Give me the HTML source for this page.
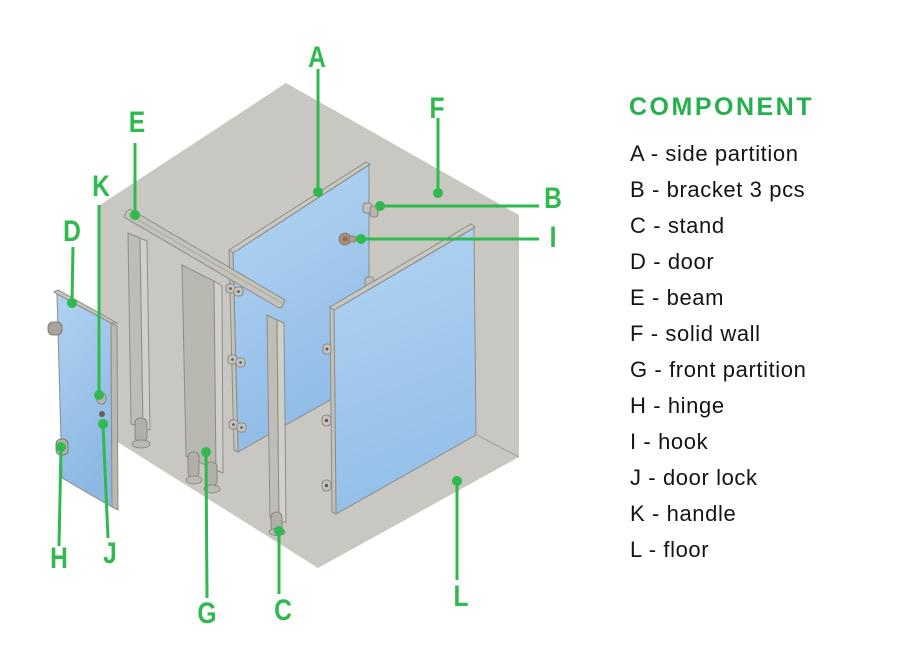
<!DOCTYPE html>
<html><head><meta charset="utf-8"><style>
html,body{margin:0;padding:0;background:#fff;}
svg{display:block;}
.lbl{font-family:"Liberation Sans",sans-serif;font-weight:bold;font-size:30px;fill:#2fb94f;text-anchor:middle;transform-box:fill-box;transform-origin:center;transform:scaleX(0.82);}
.item{font-family:"Liberation Sans",sans-serif;font-size:22px;fill:#141414;letter-spacing:0.6px;}
.ttl{font-family:"Liberation Sans",sans-serif;font-weight:bold;font-size:25px;fill:#24b04c;letter-spacing:2.5px;}
.gl{stroke:#2fb94f;stroke-width:3;fill:none;}
.gd{fill:#2fb94f;}
.edge{stroke:#8e8d87;stroke-width:1;}
</style></head><body>
<svg width="902" height="664" viewBox="0 0 902 664" xmlns="http://www.w3.org/2000/svg">
<defs>
<linearGradient id="bA" x1="0" y1="0" x2="0.3" y2="1"><stop offset="0" stop-color="#b4d5f3"/><stop offset="1" stop-color="#8fbbe6"/></linearGradient>
<linearGradient id="bG" x1="0" y1="0" x2="0.2" y2="1"><stop offset="0" stop-color="#b2d3f2"/><stop offset="1" stop-color="#93bfe8"/></linearGradient>
<linearGradient id="bD" x1="0" y1="0" x2="0.3" y2="1"><stop offset="0" stop-color="#b0d2f1"/><stop offset="1" stop-color="#8cb8e3"/></linearGradient>
</defs>
<rect width="902" height="664" fill="#fff"/>

<!-- gray box -->
<polygon points="100,205 286,83 519,215 519,457 318,568 100,431" fill="#c8c7c2"/>
<line x1="477" y1="435" x2="519" y2="457" stroke="#a5a49e" stroke-width="1.2"/>

<!-- side partition A -->
<polygon points="233,253 369,165 369,378 238,452" fill="url(#bA)" class="edge"/>
<polygon points="229,250 366,162 370,164 233,253" fill="#c9c8c1" class="edge"/>
<polygon points="229,250 233,253 238,452 234,450" fill="#c2c1ba" class="edge"/>

<!-- brackets on A left edge -->
<g fill="#c4c2bb" stroke="#7d7b75" stroke-width="0.8">
<rect x="226" y="284" width="9" height="9" rx="3"/><rect x="234" y="287" width="9" height="9" rx="3"/>
<rect x="228" y="355" width="9" height="9" rx="3"/><rect x="236" y="358" width="9" height="9" rx="3"/>
<rect x="229" y="420" width="9" height="9" rx="3"/><rect x="237" y="423" width="9" height="9" rx="3"/>
</g>
<g fill="#555">
<circle cx="230.5" cy="288.5" r="1.3"/><circle cx="238.5" cy="291.5" r="1.3"/>
<circle cx="232.5" cy="359.5" r="1.3"/><circle cx="240.5" cy="362.5" r="1.3"/>
<circle cx="233.5" cy="424.5" r="1.3"/><circle cx="241.5" cy="427.5" r="1.3"/>
</g>

<!-- bracket B & hook I on back wall -->
<g stroke="#7a7770" stroke-width="0.8">
<rect x="363" y="203" width="9" height="10" rx="3" fill="#c2bfb8"/>
<rect x="370" y="206" width="8" height="11" rx="3" fill="#b9b5ad"/>
<circle cx="345" cy="239" r="6" fill="#a88f78"/>
<rect x="349" y="236" width="7" height="6" rx="2" fill="#b39b84"/>
<rect x="365" y="277" width="9" height="10" rx="3" fill="#c2bfb8"/>
</g>
<circle cx="345" cy="239" r="2.5" fill="#8a705a"/>

<!-- pillar P1 -->
<polygon points="128,233 140,238 143,428 131,424" fill="#bdbcb5" class="edge"/>
<polygon points="140,238 147,241 150,430 143,428" fill="#d0cfc9" class="edge"/>
<rect x="135" y="418" width="12" height="24" rx="5" fill="#b1afa8" stroke="#7f7d77" stroke-width="0.8"/>
<ellipse cx="141" cy="444" rx="9" ry="4" fill="#bbb9b2" stroke="#7f7d77" stroke-width="0.8"/>

<!-- front partition panel (middle) -->
<polygon points="182,265 214,281 216,470 186,456" fill="#b8b7b0" class="edge"/>
<polygon points="214,281 222,286 223,473 216,470" fill="#cfcec8" class="edge"/>
<rect x="188" y="452" width="11" height="26" rx="5" fill="#b1afa8" stroke="#7f7d77" stroke-width="0.8"/>
<ellipse cx="194" cy="480" rx="8" ry="4" fill="#bbb9b2" stroke="#7f7d77" stroke-width="0.8"/>
<rect x="206" y="462" width="11" height="24" rx="5" fill="#b1afa8" stroke="#7f7d77" stroke-width="0.8"/>
<ellipse cx="212" cy="489" rx="8" ry="4" fill="#bbb9b2" stroke="#7f7d77" stroke-width="0.8"/>

<!-- beam E -->
<polygon points="126,212 130,209 285,300 282,307 279,308 124,217" fill="#c3c2bb" class="edge"/>
<line x1="128" y1="214" x2="282" y2="303" stroke="#a8a7a0" stroke-width="1"/>

<!-- stand C (P3) -->
<polygon points="267,315 277,320 279,522 270,518" fill="#bebdb6" class="edge"/>
<polygon points="277,320 284,323 286,522 279,522" fill="#d0cfc9" class="edge"/>
<rect x="271" y="512" width="11" height="20" rx="5" fill="#b1afa8" stroke="#7f7d77" stroke-width="0.8"/>
<ellipse cx="277" cy="532" rx="8" ry="3.5" fill="#bbb9b2" stroke="#7f7d77" stroke-width="0.8"/>

<!-- big partition (front right) -->
<polygon points="334,310 474,228 476,435 336,514" fill="url(#bG)" class="edge"/>
<polygon points="330,307 471,224 475,227 334,310" fill="#c9c8c1" class="edge"/>
<polygon points="330,307 334,310 336,514 332,512" fill="#c2c1ba" class="edge"/>
<g fill="#c4c2bb" stroke="#7d7b75" stroke-width="0.8">
<rect x="323" y="344" width="8" height="10" rx="3"/>
<rect x="322" y="415" width="9" height="11" rx="4"/>
<rect x="322" y="480" width="9" height="11" rx="4"/>
</g>
<g fill="#555"><circle cx="327" cy="349" r="1.4"/><circle cx="326.5" cy="420.5" r="1.6"/><circle cx="326.5" cy="485.5" r="1.6"/></g>

<!-- door D -->
<polygon points="57,294 111,323 112,507 62,478" fill="url(#bD)" class="edge"/>
<polygon points="111,323 117,326 118,510 112,507" fill="#b9b8b1" class="edge"/>
<polygon points="54,292 58,290 117,323 111,323 57,294" fill="#c5c4bd" class="edge"/>
<rect x="48" y="322" width="14" height="13" rx="5" fill="#aaa397" stroke="#6e6a63" stroke-width="0.8"/>
<rect x="56" y="439" width="12" height="16" rx="5" fill="#b7b2a9" stroke="#6e6a63" stroke-width="0.8"/>
<rect x="97" y="393" width="9" height="11" rx="4" fill="#bcb8b1" stroke="#7a766f" stroke-width="0.8"/>
<circle cx="102" cy="414" r="3" fill="#6d5f55"/>

<!-- green leader lines -->
<line class="gl" x1="318" y1="69" x2="318" y2="192"/><circle class="gd" cx="318" cy="192" r="5"/>
<line class="gl" x1="438" y1="118" x2="438" y2="193"/><circle class="gd" cx="438" cy="193" r="5"/>
<line class="gl" x1="380" y1="206" x2="539" y2="206"/><circle class="gd" cx="380" cy="206" r="5"/>
<line class="gl" x1="361" y1="239" x2="539" y2="239"/><circle class="gd" cx="361" cy="239" r="5"/>
<line class="gl" x1="135" y1="143" x2="135" y2="215"/><circle class="gd" cx="135" cy="215" r="5"/>
<line class="gl" x1="99" y1="205" x2="99" y2="395"/><circle class="gd" cx="99" cy="395" r="5"/>
<line class="gl" x1="73" y1="247" x2="72" y2="303"/><circle class="gd" cx="72" cy="303" r="5"/>
<line class="gl" x1="61" y1="447" x2="59" y2="546"/><circle class="gd" cx="61" cy="447" r="5"/>
<line class="gl" x1="103" y1="424" x2="108" y2="538"/><circle class="gd" cx="103" cy="424" r="5"/>
<line class="gl" x1="206" y1="452" x2="207" y2="598"/><circle class="gd" cx="206" cy="452" r="5"/>
<line class="gl" x1="279" y1="531" x2="279" y2="594"/><circle class="gd" cx="279" cy="531" r="5"/>
<line class="gl" x1="457" y1="481" x2="457" y2="580"/><circle class="gd" cx="457" cy="481" r="5"/>

<!-- letters -->
<text class="lbl" x="317" y="67">A</text>
<text class="lbl" x="437" y="118">F</text>
<text class="lbl" x="553" y="208">B</text>
<text class="lbl" x="553" y="247">I</text>
<text class="lbl" x="137" y="132">E</text>
<text class="lbl" x="101" y="196">K</text>
<text class="lbl" x="72" y="241">D</text>
<text class="lbl" x="59" y="568">H</text>
<text class="lbl" x="110" y="563">J</text>
<text class="lbl" x="207" y="623">G</text>
<text class="lbl" x="283" y="620">C</text>
<text class="lbl" x="461" y="606">L</text>

<!-- legend -->
<text class="ttl" x="629" y="115">COMPONENT</text>
<text class="item" x="630" y="161">A - side partition</text>
<text class="item" x="630" y="197">B - bracket 3 pcs</text>
<text class="item" x="630" y="233">C - stand</text>
<text class="item" x="630" y="269">D - door</text>
<text class="item" x="630" y="305">E - beam</text>
<text class="item" x="630" y="341">F - solid wall</text>
<text class="item" x="630" y="377">G - front partition</text>
<text class="item" x="630" y="413">H - hinge</text>
<text class="item" x="630" y="449">I - hook</text>
<text class="item" x="630" y="485">J - door lock</text>
<text class="item" x="630" y="521">K - handle</text>
<text class="item" x="630" y="557">L - floor</text>
</svg>
</body></html>
